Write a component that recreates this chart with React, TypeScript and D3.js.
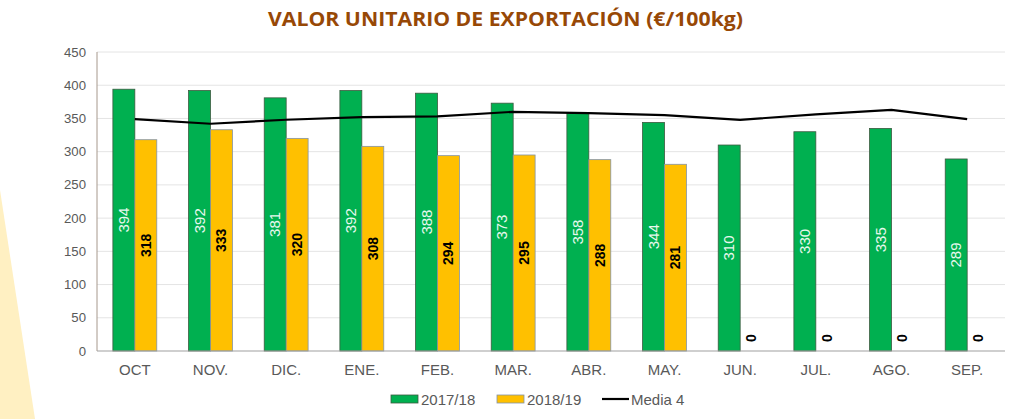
import React from "react";
import * as d3 from "d3";

const months = ["OCT", "NOV.", "DIC.", "ENE.", "FEB.", "MAR.", "ABR.", "MAY.", "JUN.", "JUL.", "AGO.", "SEP."];
const s2017 = [394, 392, 381, 392, 388, 373, 358, 344, 310, 330, 335, 289];
const s2018 = [318, 333, 320, 308, 294, 295, 288, 281, 0, 0, 0, 0];
const media4 = [349, 342, 348, 352, 353, 360, 358, 355, 348, 356, 363, 349];
const yTicks = [0, 50, 100, 150, 200, 250, 300, 350, 400, 450];
const seriesNames = ["2017/18", "2018/19", "Media 4"];

const W = 1009, H = 419;
const left = 97, right = 1005, top = 52, bottom = 351;
const GREEN = "#00B050", YELLOW = "#FFC000";
const AXIS_FONT = "'Liberation Sans', Arial, sans-serif";

export default function App() {
  const x = d3.scaleBand<string>().domain(months).range([left, right]).paddingInner(0.42).paddingOuter(0.21);
  const y = d3.scaleLinear().domain([0, 450]).range([bottom, top]);
  const bw = x.bandwidth() / 2;
  const cx = (m: string) => (x(m) as number) + x.bandwidth() / 2;
  const line = d3.line<number>().x((_, i) => cx(months[i])).y((d) => y(d));

  return (
    <svg width={W} height={H} style={{ position: "absolute", left: 0, top: 0, background: "#fff" }}>
      <polygon points={`0,190 35,${H} 0,${H}`} fill="#FFF0C2" />
      <text x={268} y={26} textLength={475} lengthAdjust="spacingAndGlyphs" fontFamily="'Open Sans', sans-serif" fontWeight={700} fontSize={20} fill="#974806">
        VALOR UNITARIO DE EXPORTACIÓN (€/100kg)
      </text>
      {yTicks.map((t) => (
        <g key={t}>
          {t > 0 && <line x1={left} x2={right} y1={y(t)} y2={y(t)} stroke="#e4e4e4" strokeWidth={1} />}
          <text x={86} y={y(t) + 4.5} textAnchor="end" fontFamily={AXIS_FONT} fontSize={13.2} fill="#595959">{t}</text>
        </g>
      ))}
      <line x1={left} x2={left} y1={top} y2={bottom} stroke="#a6988c" strokeWidth={1} />
      {months.map((m, i) => {
        const x0 = x(m) as number;
        return (
          <g key={m}>
            <rect x={x0} y={y(s2017[i])} width={bw} height={bottom - y(s2017[i])} fill={GREEN} stroke="#3c5a40" strokeWidth={0.8} />
            {s2018[i] > 0 && (
              <rect x={x0 + bw} y={y(s2018[i])} width={bw} height={bottom - y(s2018[i])} fill={YELLOW} stroke="#8393a8" strokeWidth={0.8} />
            )}
            <text transform={`translate(${x0 + bw / 2 + 5},${(y(s2017[i]) + bottom) / 2}) rotate(-90)`} textAnchor="middle"
              fontFamily={AXIS_FONT} fontSize={15} fill="#e8f8ee">{s2017[i]}</text>
            <text transform={`translate(${x0 + bw * 1.5 + 5},${s2018[i] > 0 ? (y(s2018[i]) + bottom) / 2 : bottom - 13}) rotate(-90)`} textAnchor="middle"
              fontFamily={AXIS_FONT} fontWeight={700} fontSize={14} fill="#000">{s2018[i]}</text>
            <text x={cx(m)} y={375} textAnchor="middle" fontFamily={AXIS_FONT} fontSize={15} fill="#595959">{m}</text>
          </g>
        );
      })}
      <line x1={left} x2={right} y1={bottom} y2={bottom} stroke="#a0a0a0" strokeWidth={1.2} />
      <path d={line(media4) as string} fill="none" stroke="#000" strokeWidth={2.2} />
      <g fontFamily={AXIS_FONT} fontSize={15} fill="#595959">
        <rect x={391} y={395} width={27} height={8} fill={GREEN} stroke="#3c5a40" strokeWidth={0.8} />
        <text x={421} y={405}>{seriesNames[0]}</text>
        <rect x={497} y={395} width={27} height={8} fill={YELLOW} stroke="#8393a8" strokeWidth={0.8} />
        <text x={527} y={405}>{seriesNames[1]}</text>
        <line x1={602} x2={629} y1={399} y2={399} stroke="#000" strokeWidth={2.2} />
        <text x={631} y={405}>{seriesNames[2]}</text>
      </g>
    </svg>
  );
}
